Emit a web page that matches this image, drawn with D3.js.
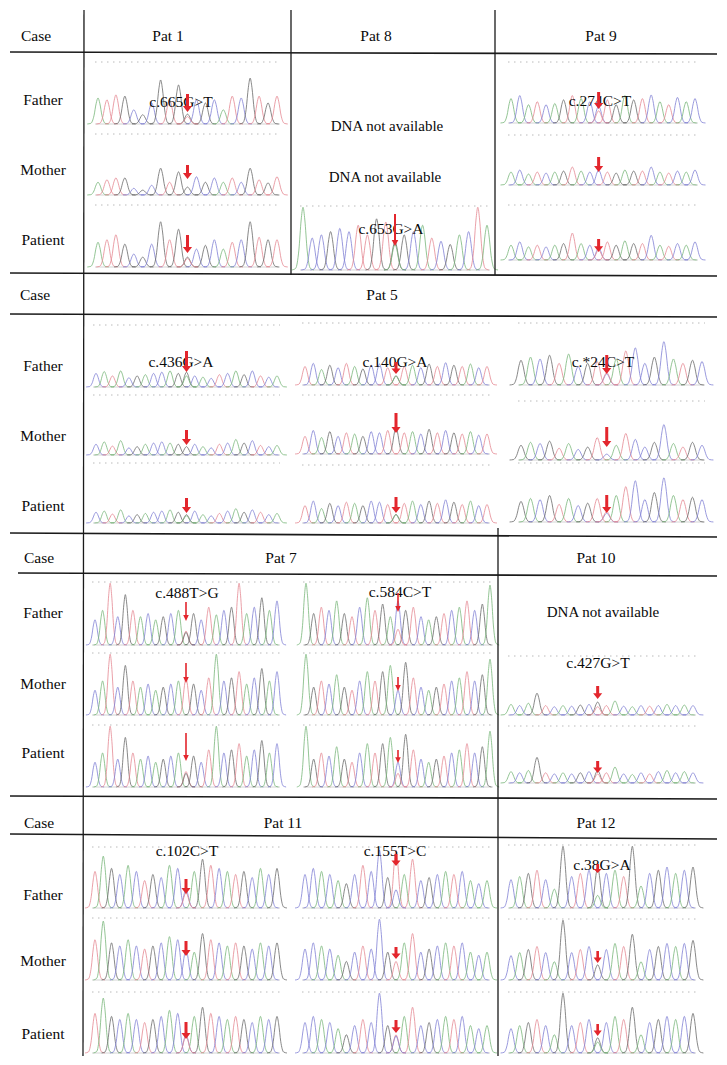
<!DOCTYPE html>
<html>
<head>
<meta charset="utf-8">
<script src="https://cdn.jsdelivr.net/npm/d3@7"></script>
<style>
  body { margin: 0; background: #fff; }
  text { font-family: 'Liberation Serif', 'DejaVu Serif', serif; fill: #0a0a0a; }
</style>
</head>
<body>
<div id="chart"></div>
<script>
const WIDTH = 727
const HEIGHT = 1065

// base colours of the sequencer traces (faded, as in the scan)
const BASE_COLOR = { A: '#78b67a', C: '#8080d4', G: '#6a6a6a', T: '#e48892' }

// --- trace data: called bases, peak heights (0-100 of panel), alt-allele peak at the variant ---
// Pat 1  c.665G>T   (father, mother, patient)
const pat1Bases = ['ATTGCGCGTGGCGCATCGTGT', 'ATTGCGCGTGGCGCATCGTGT', 'ATTGCGCGTGGCGCATCGTGT']
const pat1Peaks = [
  [42, 39, 47, 45, 23, 15, 34, 71, 39, 63, 16, 39, 34, 39, 23, 45, 42, 74, 45, 34, 45],
  [21, 25, 28, 28, 11, 8, 16, 44, 21, 38, 13, 30, 21, 28, 21, 28, 21, 44, 25, 20, 30],
  [40, 44, 52, 37, 21, 16, 37, 73, 44, 61, 16, 29, 35, 44, 29, 40, 44, 73, 48, 44, 44]
]
const pat1Alt = [12, 0, 14]

// Pat 8  c.653G>A   (patient only)
const pat8Bases = ['ACCGCCTTGTGGCATCGACTA']
const pat8Peaks = [
  [98, 50, 55, 60, 65, 60, 70, 55, 80, 75, 45, 55, 60, 70, 50, 45, 40, 55, 60, 98, 70]
]
const pat8Alt = [40]

// Pat 9  c.274C>T
const pat9Bases = ['ACATCAGTACCTGAGTCATCAC', 'ACATCAGTACCTGAGTCATCAC', 'ACATCAGTACCTGAGTCATCAC']
const pat9Peaks = [
  [40, 45, 30, 35, 30, 32, 38, 45, 40, 35, 28, 38, 30, 45, 38, 40, 46, 35, 30, 42, 35, 40],
  [26, 30, 22, 26, 24, 26, 28, 36, 28, 26, 30, 26, 24, 30, 28, 28, 36, 26, 24, 28, 26, 30],
  [27, 33, 24, 27, 24, 27, 30, 49, 30, 27, 22, 33, 27, 35, 30, 30, 45, 27, 25, 30, 27, 33]
]
const pat9Alt = [20, 0, 18]

// Pat 5  c.436G>A / c.140G>A / c.*24C>T
const pat5aBases = ['CATACGACCAGGCACTCAGCTCA', 'CATACGACCAGGCACTCAGCTCA', 'CATACGACCAGGCACTCAGCTCA']
const pat5aPeaks = [
  [22, 25, 18, 26, 15, 18, 20, 22, 24, 26, 22, 24, 18, 16, 14, 20, 22, 26, 20, 26, 18, 16, 18],
  [18, 22, 15, 24, 12, 14, 18, 20, 22, 20, 18, 14, 18, 14, 12, 18, 20, 26, 20, 24, 16, 14, 16],
  [18, 20, 15, 22, 12, 14, 16, 18, 20, 22, 18, 14, 20, 14, 12, 16, 20, 24, 18, 22, 18, 14, 16]
]
const pat5aAlt = [18, 0, 12]

const pat5bBases = ['TCAGCTAGCCTGTACGTCGTACT', 'TCAGCTAGCCTGTACGTCGTACT', 'TCAGCTAGCCTGTACGTCGTACT']
const pat5bPeaks = [
  [30, 35, 25, 32, 28, 35, 30, 26, 32, 34, 28, 15, 30, 32, 28, 34, 30, 36, 32, 30, 34, 28, 30],
  [30, 40, 28, 38, 30, 36, 34, 30, 38, 36, 40, 45, 36, 38, 34, 42, 36, 40, 36, 34, 38, 32, 34],
  [30, 38, 25, 34, 30, 36, 34, 30, 38, 36, 32, 15, 34, 38, 32, 38, 34, 40, 36, 32, 38, 30, 32]
]
const pat5bAlt = [14, 0, 14]

const pat5cBases = ['GACGTACGTCATCCGCATGC', 'GACGTACGTCATCCGCATGC', 'GACGTACGTCATCCGCATGC']
const pat5cPeaks = [
  [40, 45, 42, 48, 35, 50, 30, 35, 38, 18, 42, 55, 60, 35, 45, 70, 42, 35, 40, 38],
  [25, 30, 28, 32, 20, 28, 18, 22, 38, 10, 25, 45, 35, 22, 30, 60, 28, 22, 30, 25],
  [35, 40, 38, 45, 30, 40, 28, 32, 40, 15, 45, 60, 70, 38, 50, 75, 45, 38, 42, 38]
]
const pat5cAlt = [20, 0, 18]

// Pat 7  c.488T>G / c.584C>T
const pat7aBases = ['CATCGTACAGCATGCTACGTACGAC', 'CATCGTACAGCATGCTACGTACGAC', 'CATCGTACAGCATGCTACGTACGAC']
const pat7aPeaks = [
  [40, 55, 98, 45, 80, 55, 45, 50, 40, 45, 50, 55, 22, 50, 40, 60, 48, 55, 60, 98, 50, 60, 75, 55, 70],
  [40, 55, 98, 45, 80, 55, 45, 50, 40, 45, 50, 55, 60, 50, 40, 60, 98, 55, 60, 70, 50, 60, 75, 55, 70],
  [40, 55, 98, 45, 80, 55, 45, 50, 40, 45, 50, 55, 25, 50, 40, 60, 98, 55, 60, 70, 50, 60, 75, 55, 70]
]
const pat7aAlt = [20, 0, 22]

const pat7bBases = ['AGTCAGTCATGACGTCAGTCATCGA', 'AGTCAGTCATGACGTCAGTCATCGA', 'AGTCAGTCATGACGTCAGTCATCGA']
const pat7bPeaks = [
  [98, 50, 60, 55, 70, 50, 45, 60, 75, 55, 65, 45, 70, 55, 60, 45, 40, 45, 50, 55, 60, 70, 55, 65, 95],
  [98, 45, 55, 50, 65, 45, 40, 55, 70, 55, 70, 80, 40, 85, 60, 45, 40, 45, 50, 55, 60, 70, 55, 65, 90],
  [98, 45, 55, 50, 65, 45, 40, 55, 70, 55, 70, 80, 40, 85, 60, 45, 40, 45, 50, 55, 60, 70, 55, 65, 90]
]
const pat7bAlt = [25, 0, 22]

// Pat 10  c.427G>T   (mother, patient)
const pat10Bases = ['ACAGTCACGCGTACACTCACAC', 'ACAGTCACGCGTACACTCACAC']
const pat10Peaks = [
  [18, 16, 20, 37, 16, 14, 16, 15, 17, 18, 22, 16, 24, 15, 14, 16, 15, 16, 18, 16, 17, 16],
  [20, 18, 22, 45, 18, 16, 18, 16, 18, 20, 22, 18, 28, 16, 15, 18, 16, 20, 22, 18, 20, 18]
]
const pat10Alt = [14, 16]

// Pat 11  c.102C>T / c.155T>C
const pat11aBases = ['TAGCACTGCACCAGTCATGCACG', 'TAGCACTGCACCAGTCATGCACG', 'TAGCACTGCACCAGTCATGCACG']
const pat11aPeaks = [
  [60, 85, 65, 55, 70, 60, 45, 55, 50, 70, 65, 30, 60, 80, 70, 65, 60, 55, 60, 50, 65, 55, 65],
  [65, 95, 60, 55, 65, 55, 50, 55, 60, 70, 65, 50, 45, 75, 65, 60, 55, 60, 55, 50, 60, 55, 60],
  [65, 90, 60, 55, 65, 55, 50, 55, 60, 70, 65, 30, 60, 75, 65, 60, 55, 60, 55, 50, 60, 55, 60]
]
const pat11aAlt = [25, 0, 28]

const pat11bBases = ['CCACAGCTCCGTATCGCATCACA', 'CCACAGCTCCGTATCGCATCACA', 'CCACAGCTCCGTATCGCATCACA']
const pat11bPeaks = [
  [55, 65, 60, 55, 45, 40, 55, 70, 60, 95, 50, 95, 55, 80, 45, 50, 55, 60, 55, 60, 45, 40, 45],
  [50, 60, 55, 50, 40, 30, 45, 55, 50, 98, 45, 30, 60, 75, 45, 50, 55, 60, 55, 60, 45, 40, 45],
  [50, 60, 55, 50, 40, 30, 45, 55, 50, 98, 45, 30, 60, 75, 45, 50, 55, 60, 55, 60, 45, 40, 45]
]
const pat11bAlt = [30, 0, 28]

// Pat 12  c.38G>A
const pat12Bases = ['CAGTCAGCTCGCATGACGCACG', 'CAGTCAGCTCGCATGACGCACG', 'CAGTCAGCTCGCATGACGCACG']
const pat12Peaks = [
  [45, 50, 55, 60, 45, 30, 98, 50, 55, 60, 65, 55, 60, 50, 98, 35, 55, 60, 65, 55, 60, 65],
  [40, 45, 50, 55, 45, 30, 98, 45, 50, 55, 25, 50, 60, 55, 75, 30, 50, 55, 60, 55, 60, 65],
  [40, 45, 50, 55, 45, 30, 98, 45, 50, 55, 25, 50, 60, 55, 75, 30, 50, 55, 60, 55, 60, 65]
]
const pat12Alt = [20, 0, 18]

// --- table text ---
const rowLabels = ['Father', 'Mother', 'Patient']
const caseHeaders = ['Pat 1', 'Pat 8', 'Pat 9', 'Pat 5', 'Pat 7', 'Pat 10', 'Pat 11', 'Pat 12']
const variants = ['c.665G>T', 'c.653G>A', 'c.274C>T', 'c.436G>A', 'c.140G>A', 'c.*24C>T',
  'c.488T>G', 'c.584C>T', 'c.427G>T', 'c.102C>T', 'c.155T>C', 'c.38G>A']
const noDna = 'DNA not available'

// --- layout ---
const sections = [
  { caseY: 35, headerX: [168, 376, 601], headers: [0, 1, 2], rowY: [99, 169, 239] },
  { caseY: 294, headerX: [382], headers: [3], rowY: [365, 435, 505] },
  { caseY: 557, headerX: [281, 596], headers: [4, 5], rowY: [612, 683, 752] },
  { caseY: 822, headerX: [283, 596], headers: [6, 7], rowY: [894, 960, 1033] }
]
const caseX = [36, 35, 39, 39]

const hLines = [
  [10, 52, 717, 54], [10, 273, 717, 276], [10, 314, 717, 317], [10, 533, 717, 537],
  [18, 573, 717, 576], [10, 796, 717, 799], [10, 834, 717, 839]
]
const vLines = [
  [84, 10, 83, 1056], [291, 10, 291, 275], [495, 10, 495, 275], [498, 528, 498, 1056]
]

// rows: [dotted top, baseline, arrow y1, arrow y2]
const panels = [
  { bases: pat1Bases, peaks: pat1Peaks, alt: pat1Alt, mut: 10, x: [95, 280], w: 3,
    rows: [[62, 124, 94, 112], [134, 195, 165, 179], [205, 267, 235, 253]],
    label: [0, 181, 101] },
  { bases: pat8Bases, peaks: pat8Peaks, alt: pat8Alt, mut: 10, x: [300, 490], w: 2,
    rows: [[206, 270, 214, 246]], label: [1, 391, 228] },
  { bases: pat9Bases, peaks: pat9Peaks, alt: pat9Alt, mut: 10, x: [508, 698], w: 3,
    rows: [[62, 123, 92, 109], [135, 185, 157, 172], [205, 260, 239, 252]],
    label: [2, 600, 100] },
  { bases: pat5aBases, peaks: pat5aPeaks, alt: pat5aAlt, mut: 11, x: [93, 280], w: 3,
    rows: [[325, 387, 351, 372], [395, 455, 430, 445], [463, 523, 498, 513]],
    label: [3, 181, 361] },
  { bases: pat5bBases, peaks: pat5bPeaks, alt: pat5bAlt, mut: 11, x: [302, 490], w: 3,
    rows: [[323, 385, 362, 374], [395, 454, 413, 433], [465, 523, 497, 513]],
    label: [4, 395, 361] },
  { bases: pat5cBases, peaks: pat5cPeaks, alt: pat5cAlt, mut: 9, x: [518, 705], w: 3,
    rows: [[323, 385, 355, 374], [401, 460, 427, 447], [463, 522, 495, 513]],
    label: [5, 603, 361] },
  { bases: pat7aBases, peaks: pat7aPeaks, alt: pat7aAlt, mut: 12, x: [92, 280], w: 1.6,
    rows: [[582, 645, 602, 621], [653, 715, 663, 683], [725, 787, 733, 761]],
    label: [6, 187, 592] },
  { bases: pat7bBases, peaks: pat7bPeaks, alt: pat7bAlt, mut: 12, x: [303, 493], w: 1.6,
    rows: [[582, 645, 593, 612], [653, 715, 677, 691], [725, 787, 750, 763]],
    label: [7, 400, 591] },
  { bases: pat10Bases, peaks: pat10Peaks, alt: pat10Alt, mut: 10, x: [508, 696], w: 3,
    rows: [[656, 715, 686, 699], [726, 783, 761, 773]], label: [8, 598, 662] },
  { bases: pat11aBases, peaks: pat11aPeaks, alt: pat11aAlt, mut: 11, x: [92, 280], w: 3,
    rows: [[847, 908, 879, 894], [918, 980, 941, 956], [992, 1053, 1022, 1039]],
    label: [9, 187, 850] },
  { bases: pat11bBases, peaks: pat11bPeaks, alt: pat11bAlt, mut: 11, x: [302, 490], w: 3,
    rows: [[847, 908, 854, 866], [918, 980, 947, 959], [992, 1053, 1020, 1033]],
    label: [10, 395, 850] },
  { bases: pat12Bases, peaks: pat12Peaks, alt: pat12Alt, mut: 10, x: [508, 696], w: 2.6,
    rows: [[845, 908, 864, 873], [919, 980, 951, 963], [992, 1053, 1024, 1036]],
    label: [11, 602, 864] }
]
const noDnaSpots = [[387, 126], [385, 177], [603, 612]]

const svg = d3.select('#chart')
  .append('svg')
  .attr('width', WIDTH)
  .attr('height', HEIGHT)

svg.append('rect').attr('width', WIDTH).attr('height', HEIGHT).attr('fill', '#fff')

// peak outline: a narrow bell drawn through a few knots
const knots = [-1.2, -0.8, -0.45, -0.2, 0, 0.2, 0.45, 0.8, 1.2]
const peakLine = d3.line().curve(d3.curveMonotoneX)
const bell = o => Math.exp(-Math.pow(o / 0.42, 2))

panels.forEach(p => {
  const g = svg.append('g')
  p.rows.forEach((r, i) => {
    const heights = p.peaks[i]
    const bases = p.bases[i]
    const x = d3.scaleLinear().domain([0, heights.length - 1]).range([p.x[0] + 3, p.x[1] - 3])
    const y = d3.scaleLinear().domain([0, 100]).range([r[1], r[0]])
    const s = x(1) - x(0)

    // peak-position marker line and baseline
    g.append('line')
      .attr('x1', p.x[0]).attr('x2', p.x[1]).attr('y1', r[0]).attr('y2', r[0])
      .attr('stroke', '#a8a8a8').attr('stroke-width', 0.8).attr('stroke-dasharray', '1.5,4.5')
    g.append('line')
      .attr('x1', p.x[0]).attr('x2', p.x[1]).attr('y1', r[1]).attr('y2', r[1])
      .attr('stroke', '#c0c0c0').attr('stroke-width', 0.7)

    const peaks = heights.map((h, k) => ({ base: bases[k], h, k }))
    const alt = p.alt[i]
    if (alt > 0) {
      peaks.push({ base: variants[p.label[0]].slice(-1), h: alt, k: p.mut })
    }
    g.selectAll(null)
      .data(peaks)
      .enter()
      .append('path')
      .attr('d', d => peakLine(knots.map(o => [x(d.k) + o * s, y(d.h * bell(o))])))
      .attr('fill', 'none')
      .attr('stroke', d => BASE_COLOR[d.base])
      .attr('stroke-width', 0.8)
  })
})

// table rules
svg.selectAll('.hline')
  .data(hLines)
  .enter()
  .append('line')
  .attr('x1', d => d[0]).attr('y1', d => d[1]).attr('x2', d => d[2]).attr('y2', d => d[3])
  .attr('stroke', '#1a1a1a').attr('stroke-width', 1.6)
svg.selectAll('.vline')
  .data(vLines)
  .enter()
  .append('line')
  .attr('x1', d => d[0]).attr('y1', d => d[1]).attr('x2', d => d[2]).attr('y2', d => d[3])
  .attr('stroke', '#1a1a1a').attr('stroke-width', 1.3)

// headers and row labels
sections.forEach((sec, si) => {
  svg.append('text')
    .attr('x', caseX[si]).attr('y', sec.caseY)
    .attr('text-anchor', 'middle').attr('dominant-baseline', 'central')
    .style('font-size', '15.5px')
    .text('Case')
  sec.headers.forEach((h, j) => {
    svg.append('text')
      .attr('x', sec.headerX[j]).attr('y', sec.caseY)
      .attr('text-anchor', 'middle').attr('dominant-baseline', 'central')
      .style('font-size', '15.5px')
      .text(caseHeaders[h])
  })
  rowLabels.forEach((lab, j) => {
    svg.append('text')
      .attr('x', 43).attr('y', sec.rowY[j])
      .attr('text-anchor', 'middle').attr('dominant-baseline', 'central')
      .style('font-size', '15.5px')
      .text(lab)
  })
})

noDnaSpots.forEach(d => {
  svg.append('text')
    .attr('x', d[0]).attr('y', d[1])
    .attr('text-anchor', 'middle').attr('dominant-baseline', 'central')
    .style('font-size', '15px')
    .text(noDna)
})

// variant labels
panels.forEach(p => {
  svg.append('text')
    .attr('x', p.label[1]).attr('y', p.label[2])
    .attr('text-anchor', 'middle').attr('dominant-baseline', 'central')
    .style('font-size', '15.5px')
    .text(variants[p.label[0]])
})

// red arrows over the variant peak
panels.forEach(p => {
  const x = d3.scaleLinear().domain([0, p.peaks[0].length - 1]).range([p.x[0] + 3, p.x[1] - 3])
  const cx = x(p.mut)
  p.rows.forEach(r => {
    const y1 = r[2]
    const y2 = r[3]
    const w = p.w
    const hw = w * 1.25 + 0.8
    const head = Math.min(6, (y2 - y1) * 0.45)
    const path = d3.path()
    path.moveTo(cx - w / 2, y1)
    path.lineTo(cx + w / 2, y1)
    path.lineTo(cx + w / 2, y2 - head)
    path.lineTo(cx + hw, y2 - head)
    path.lineTo(cx, y2)
    path.lineTo(cx - hw, y2 - head)
    path.lineTo(cx - w / 2, y2 - head)
    path.closePath()
    svg.append('path')
      .attr('d', path.toString())
      .attr('fill', '#e3262d')
  })
})
</script>
</body>
</html>
